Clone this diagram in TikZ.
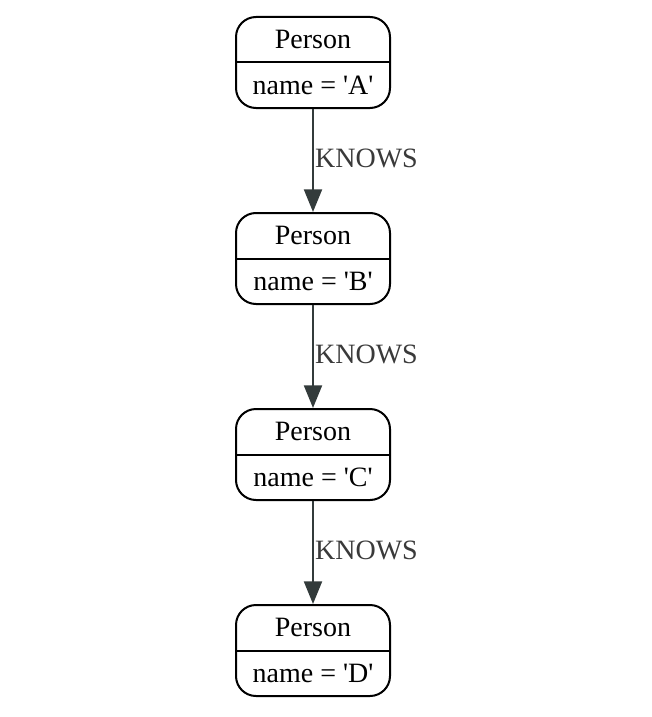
\documentclass[tikz,border=0pt]{standalone}
\usepackage{fontspec}
\setmainfont{Liberation Serif}[Ligatures=TeXOff]
\usetikzlibrary{arrows.meta}
\definecolor{edgec}{HTML}{333B3B}
\definecolor{labc}{HTML}{3A3A3A}
\tikzset{
  px/.style={x=0.75pt,y=-0.75pt},
  personbox/.style={draw=black,line width=1.5pt,rounded corners=15pt,minimum width=115.5pt,minimum height=68.25pt,inner sep=0pt},
  txt/.style={font=\fontsize{21}{24}\selectfont,inner sep=0pt,anchor=center},
  rel/.style={draw=edgec,line width=1.6pt,-{Triangle[length=17pt,width=13.5pt]}},
  rellab/.style={font=\fontsize{21}{24}\selectfont,text=labc,anchor=west,inner sep=0pt}
}
\begin{document}
\begin{tikzpicture}[px]
\useasboundingbox (0,0) rectangle (651,717);
\foreach \n/\l/\y in {a/A/62.5,b/B/258.5,c/C/454.5,d/D/650.5}{
  \node[personbox] (\n) at (313,\y) {};
  \draw[line width=1.5pt] (\n.west) -- (\n.east);
  \node[txt] (\n t) at (313,\y-23) {Person};
  \node[txt] (\n v) at (313,\y+23) {name = '\l'};
}
\draw[rel] (a.south) -- node[rellab,xshift=0.8pt,yshift=1.5pt] (l1) {KNOWS} (b.north);
\draw[rel] (b.south) -- node[rellab,xshift=0.8pt,yshift=1.5pt] (l2) {KNOWS} (c.north);
\draw[rel] (c.south) -- node[rellab,xshift=0.8pt,yshift=1.5pt] (l3) {KNOWS} (d.north);
\end{tikzpicture}
\end{document}
